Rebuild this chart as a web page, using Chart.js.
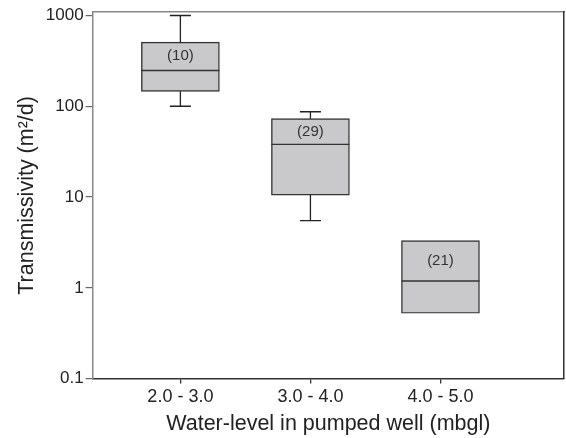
<!DOCTYPE html>
<html><head><meta charset="utf-8">
<script src="https://cdn.jsdelivr.net/npm/chart.js@4"></script>
<style>html,body{margin:0;padding:0;background:#fff}#wrap{width:566px;height:438px}</style>
</head><body><div id="wrap"><canvas id="c" width="566" height="438"></canvas></div>
<script>
const categories = ['2.0 - 3.0', '3.0 - 4.0', '4.0 - 5.0'];
const counts = [10, 29, 21];
const whiskerMin = [100, 5.5, 0.525];
const q1 = [146, 10.5, 0.525];
const median = [248, 38, 1.19];
const q3 = [508, 73, 3.31];
const whiskerMax = [1000, 87, 3.31];
const yTicks = [0.1, 1, 10, 100, 1000];

const FONT = "'Liberation Sans', Arial, Helvetica, sans-serif";
const TEXT = '#222';

const boxExtras = {
  id: 'boxExtras',
  afterDatasetsDraw(chart) {
    const ctx = chart.ctx;
    const y = chart.scales.y;
    const meta = chart.getDatasetMeta(0);
    ctx.save();
    meta.data.forEach((bar, i) => {
      const cx = bar.x;
      const half = bar.width / 2;
      const cap = half * 0.27;
      const pQ1 = y.getPixelForValue(q1[i]);
      const pQ3 = y.getPixelForValue(q3[i]);
      const pMed = y.getPixelForValue(median[i]);
      ctx.strokeStyle = '#222';
      ctx.lineWidth = 1.3;
      if (whiskerMax[i] > q3[i]) {
        const pMax = y.getPixelForValue(whiskerMax[i]);
        ctx.beginPath();
        ctx.moveTo(cx, pQ3); ctx.lineTo(cx, pMax);
        ctx.moveTo(cx - cap, pMax); ctx.lineTo(cx + cap, pMax);
        ctx.stroke();
      }
      if (whiskerMin[i] < q1[i]) {
        const pMin = y.getPixelForValue(whiskerMin[i]);
        ctx.beginPath();
        ctx.moveTo(cx, pQ1); ctx.lineTo(cx, pMin);
        ctx.moveTo(cx - cap, pMin); ctx.lineTo(cx + cap, pMin);
        ctx.stroke();
      }
      ctx.strokeStyle = '#333';
      ctx.lineWidth = 1.4;
      ctx.beginPath();
      ctx.moveTo(cx - half, pMed); ctx.lineTo(cx + half, pMed);
      ctx.stroke();
      ctx.fillStyle = '#333';
      ctx.font = '15px ' + FONT;
      ctx.textAlign = 'center';
      ctx.textBaseline = 'middle';
      ctx.fillText('(' + counts[i] + ')', cx, (pQ3 + pMed) / 2);
    });
    ctx.restore();
  }
};

new Chart(document.getElementById('c'), {
  type: 'bar',
  data: {
    datasets: [{
      data: categories.map((c, i) => ({ x: i + 1, y: [q1[i], q3[i]] })),
      backgroundColor: '#c9c9cb',
      borderColor: '#333',
      borderWidth: 1.4,
      borderSkipped: false,
      barThickness: 78,
      xAxisID: 'x',
      yAxisID: 'y'
    }]
  },
  options: {
    responsive: false,
    animation: false,
    devicePixelRatio: 1,
    layout: { padding: { top: 12, right: 2, bottom: 1, left: 0 } },
    plugins: { legend: { display: false }, tooltip: { enabled: false } },
    scales: {
      x: {
        type: 'linear',
        position: 'bottom',
        offset: false,
        bounds: 'data',
        min: 0.325,
        max: 3.95,
        afterBuildTicks: (s) => { s.ticks = categories.map((c, i) => ({ value: i + 1 })); },
        ticks: {
          callback: (v) => categories[Math.round(v) - 1] ?? '',
          font: { family: FONT, size: 18 },
          color: TEXT,
          padding: 3,
          maxRotation: 0,
          autoSkip: false
        },
        grid: { display: true, offset: false, drawOnChartArea: false, drawTicks: true, tickLength: 5, color: '#333', lineWidth: 1.3 },
        border: { display: true, color: '#333', width: 1.5 },
        title: {
          display: true,
          text: 'Water-level in pumped well (mbgl)',
          font: { family: FONT, size: 21.5 },
          color: TEXT,
          padding: { top: 0, bottom: 0 }
        }
      },
      y: {
        type: 'logarithmic',
        position: 'left',
        min: 0.1,
        max: 1087,
        afterBuildTicks: (s) => { s.ticks = yTicks.map((v) => ({ value: v })); },
        ticks: {
          callback: (v) => String(v),
          font: { family: FONT, size: 17 },
          color: TEXT,
          padding: 2,
          autoSkip: false
        },
        grid: { display: true, drawOnChartArea: false, drawTicks: true, tickLength: 7, color: '#666', lineWidth: 1.2 },
        border: { display: true, color: '#888', width: 1.5 },
        title: {
          display: true,
          text: 'Transmissivity (m²/d)',
          font: { family: FONT, size: 21.5 },
          color: TEXT,
          padding: { top: 14, bottom: 4 }
        }
      },
      xTop: {
        type: 'linear',
        position: 'top',
        display: true,
        ticks: { display: false },
        grid: { display: false, drawTicks: false },
        border: { display: true, color: '#888', width: 1.5 }
      },
      yRight: {
        type: 'linear',
        position: 'right',
        display: true,
        ticks: { display: false },
        grid: { display: false, drawTicks: false },
        border: { display: true, color: '#333', width: 1.5 }
      }
    }
  },
  plugins: [boxExtras]
});
</script>
</body></html>
